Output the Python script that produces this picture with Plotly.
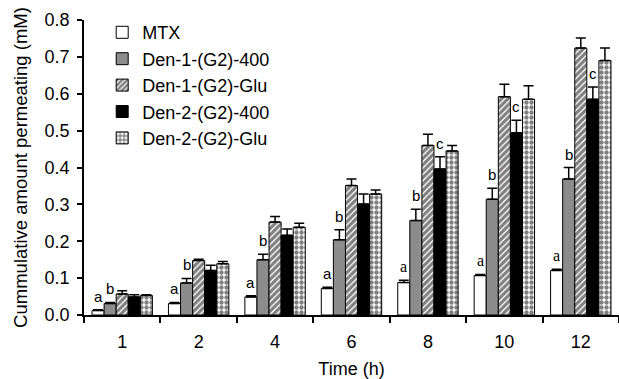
import plotly.graph_objects as go

times = ["1", "2", "4", "6", "8", "10", "12"]
series_names = ["MTX", "Den-1-(G2)-400", "Den-1-(G2)-Glu", "Den-2-(G2)-400", "Den-2-(G2)-Glu"]

mtx = [0.012, 0.031, 0.049, 0.072, 0.088, 0.107, 0.121]
mtx_err = [0.002, 0.003, 0.003, 0.003, 0.006, 0.003, 0.003]
d1_400 = [0.031, 0.087, 0.150, 0.204, 0.256, 0.314, 0.369]
d1_400_err = [0.003, 0.012, 0.015, 0.027, 0.031, 0.030, 0.031]
d1_glu = [0.057, 0.148, 0.252, 0.351, 0.460, 0.592, 0.724]
d1_glu_err = [0.009, 0.003, 0.015, 0.018, 0.030, 0.034, 0.027]
d2_400 = [0.049, 0.121, 0.216, 0.301, 0.396, 0.494, 0.585]
d2_400_err = [0.006, 0.014, 0.017, 0.027, 0.033, 0.034, 0.033]
d2_glu = [0.053, 0.139, 0.238, 0.328, 0.445, 0.585, 0.690]
d2_glu_err = [0.002, 0.006, 0.011, 0.011, 0.015, 0.037, 0.034]

letters_a = ["a"] * 7
letters_b = ["b"] * 7
letters_c_times = ["8", "10", "12"]

values = [mtx, d1_400, d1_glu, d2_400, d2_glu]
errors = [mtx_err, d1_400_err, d1_glu_err, d2_400_err, d2_glu_err]

FONT = "Liberation Sans, Arial, sans-serif"
SERIF = "Liberation Serif, Times New Roman, serif"
BARGAP = 0.21

styles = [
    dict(color="white", pattern=None),
    dict(color="#8c8c8c", pattern=None),
    dict(color="white", pattern=dict(shape="/", fgcolor="black", bgcolor="white", size=4.5, solidity=0.7)),
    dict(color="black", pattern=None),
    dict(color="white", pattern=dict(shape=".", fgcolor="black", bgcolor="white", size=5, solidity=0.6)),
]

fig = go.Figure()
for name, vals, errs, st in zip(series_names, values, errors, styles):
    marker = dict(color=st["color"], line=dict(color="black", width=1))
    if st["pattern"]:
        marker["pattern"] = st["pattern"]
    fig.add_trace(go.Bar(
        x=times, y=vals, name=name, marker=marker,
        error_y=dict(type="data", array=errs, arrayminus=[0] * len(errs), symmetric=False,
                     color="black", thickness=1.5, width=5),
    ))

w = (1 - BARGAP) / 5
ann = []
for k, t in enumerate(times):
    serif = t in ("8", "10", "12")
    ann.append(dict(x=k + (0 - 2) * w, y=mtx[k] + mtx_err[k], text=letters_a[k], showarrow=False,
                    yanchor="bottom", yshift=3,
                    font=dict(family=SERIF if serif else FONT, size=16 if serif else 15, color="black")))
    ann.append(dict(x=k + (1 - 2) * w, y=d1_400[k] + d1_400_err[k], text=letters_b[k], showarrow=False,
                    yanchor="bottom", yshift=3, font=dict(family=FONT, size=15, color="black")))
for t in letters_c_times:
    k = times.index(t)
    ann.append(dict(x=k + (3 - 2) * w, y=d2_400[k] + d2_400_err[k], text="c", showarrow=False,
                    yanchor="bottom", yshift=3, font=dict(family=FONT, size=15, color="black")))

fig.update_layout(
    width=619, height=379,
    margin=dict(l=84, r=0, t=20, b=64),
    paper_bgcolor="white", plot_bgcolor="white",
    barmode="group", bargap=BARGAP, bargroupgap=0,
    font=dict(family=FONT, size=18, color="black"),
    annotations=ann,
    legend=dict(x=0.034, y=1.02, xanchor="left", yanchor="top", bgcolor="rgba(0,0,0,0)",
                font=dict(size=18), tracegroupgap=0, itemwidth=30),
    showlegend=True,
)
fig.update_xaxes(
    type="category", showline=True, linecolor="black", linewidth=1.5,
    ticks="outside", tickson="boundaries", ticklen=6, tickcolor="black", tickwidth=1.5,
    ticklabelstandoff=10, automargin=False,
    title=dict(text="Time (h)", font=dict(size=18), standoff=16),
    showgrid=False, zeroline=False,
)
fig.update_yaxes(
    range=[0, 0.8], dtick=0.1, tickformat=".1f",
    showline=True, linecolor="black", linewidth=1.5, automargin=False,
    ticks="outside", ticklen=5, tickcolor="black", tickwidth=1.5, ticklabelstandoff=4,
    title=dict(text="Cummulative amount permeating (mM)", font=dict(size=18.5), standoff=12),
    showgrid=False, zeroline=False,
)

fig.write_html("out.html", config={"displayModeBar": False},
               post_script="document.body.style.margin='0';")
